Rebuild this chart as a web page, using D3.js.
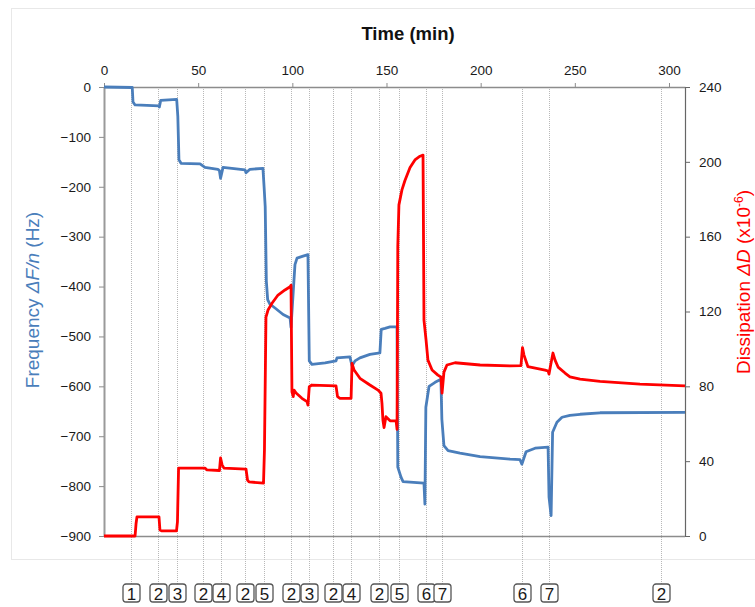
<!DOCTYPE html>
<html>
<head>
<meta charset="utf-8">
<script src="https://cdn.jsdelivr.net/npm/d3@7"></script>
<style>
  body { margin: 0; background: #fff; }
  text { font-family: "Liberation Sans", Arial, sans-serif; }
</style>
</head>
<body>
<div id="chartArea"></div>
<script>
// frequency trace (blue), time in min
var freqTime = [0, 15.0, 15.4, 16.5, 29.2, 29.4, 30.1, 38.6, 39.2, 39.8, 40.9, 51.0, 53.6, 60.5, 61.3, 61.9, 63.2,
  74.9, 75.4, 77.5, 84.4, 85.0, 85.6, 86.2, 86.9, 88.1, 90.8, 95.1, 98.8, 99.3, 100.5, 101.4, 102.5, 105.7,
  108.3, 109.0, 110.4, 117.4, 123.2, 123.7, 130.6, 131.7, 133.3, 135.9, 141.2, 146.5, 147.2, 149.2, 151.9,
  155.6, 156.0, 157.7, 158.8, 169.9, 170.4, 170.9, 172.6, 175.8, 178.9, 179.4, 180.5, 182.7, 189.0, 199.7,
  215.6, 220.9, 221.9, 224.1, 228.9, 235.8, 236.3, 237.4, 238.2, 240.5, 243.2, 247.4, 252.8, 263.4, 308.5];
var freqHz = [0, -1, -30, -36, -38, -40, -27, -25, -59, -146, -153, -154, -161, -165, -168, -183, -161,
  -166, -172, -165, -163, -200, -240, -389, -426, -435, -443, -456, -463, -482, -409, -356, -343, -339,
  -336, -549, -556, -553, -549, -543, -541, -559, -549, -543, -536, -533, -486, -484, -481,
  -481, -762, -782, -791, -794, -836, -642, -600, -592, -586, -666, -719, -729, -734, -741,
  -746, -747, -756, -731, -724, -722, -822, -859, -692, -672, -662, -658, -656, -653, -652];

// dissipation trace (red), x10^-6
var dissTime = [0, 16.5, 17.0, 17.5, 29.2, 29.7, 30.8, 38.5, 39.0, 39.6, 53.6, 54.7, 61.3, 61.9, 62.7, 63.7,
  75.4, 76.2, 77.0, 84.7, 85.2, 86.0, 87.1, 89.2, 92.4, 96.1, 98.8, 99.3, 99.8, 100.5, 100.9, 102.0, 105.1,
  107.8, 108.3, 109.0, 110.4, 123.2, 124.0, 125.3, 131.2, 131.7, 132.8, 135.9, 141.2, 145.5, 147.1, 147.6,
  148.1, 148.7, 149.7, 151.9, 155.1, 155.6, 156.0, 156.6, 158.2, 159.8, 162.5, 165.1, 167.8, 169.4, 169.9,
  171.0, 171.5, 172.0, 174.2, 177.3, 178.9, 179.5, 180.5, 182.1, 186.4, 199.7, 215.6, 221.4, 222.2, 223.0,
  225.1, 234.2, 235.8, 236.3, 237.1, 238.4, 239.5, 241.1, 244.8, 247.4, 252.8, 263.4, 284.6, 308.5];
var dissVal = [0, 0, 6.4, 10.2, 10.2, 3.2, 2.7, 2.7, 7.5, 36.3, 36.3, 35.3, 35, 41.7, 38, 36.3,
  35.8, 29.9, 28.9, 28.3, 46, 117, 120.8, 124.4, 128.8, 131.5, 133.2, 134, 77, 74.5, 78, 76.4, 73.6,
  71.8, 70, 79.8, 80.7, 80.2, 74.5, 73.6, 73.6, 92.3, 88.7, 84.3, 80.7, 78, 76.3, 70.9,
  62, 58, 63.8, 61.6, 61.5, 57, 154.6, 177, 185, 190, 197, 201, 203, 203.6, 115.4,
  104.8, 99.4, 94, 88.7, 86, 85, 76.4, 87.6, 91.4, 92.6, 91.4, 90.9, 91.1, 100.7, 96.7,
  90.5, 88.7, 88.2, 86.6, 91, 97.8, 94, 90.3, 87.1, 85.1, 83.9, 82.6, 81.2, 80.2];

// injection steps shown under the chart
var eventTime = [14.1, 28.8, 38.9, 52.4, 61.9, 74.7, 84.9, 99.5, 108.9, 121.8, 131.4, 146.2, 156.6, 171.0,
  179.4, 221.8, 236.2, 295.8];
var eventLabel = ["1", "2", "3", "2", "4", "2", "5", "2", "3", "2", "4", "2", "5", "6", "7", "6", "7", "2"];

var timeTicks = [0, 50, 100, 150, 200, 250, 300];
var freqTicks = [0, -100, -200, -300, -400, -500, -600, -700, -800, -900];
var dissTicks = [0, 40, 80, 120, 160, 200, 240];

function drawChart() {
  var width = 755, height = 607;
  var pLeft = 104, pRight = 685, pTop = 87, pBottom = 536;
  var blue = "#4a7ebb", red = "#ff0000";

  var svg = d3.select("#chartArea").append("svg")
      .attr("width", width)
      .attr("height", height);

  // chart area border
  svg.append("rect")
      .attr("x", 11.5)
      .attr("y", 8.5)
      .attr("width", 760)
      .attr("height", 551)
      .style("fill", "none")
      .style("stroke", "#e8e8e8");

  var x = d3.scaleLinear().domain([0, 308.5]).range([pLeft, pRight]);
  var yF = d3.scaleLinear().domain([-900, 0]).range([pBottom, pTop]);
  var yD = d3.scaleLinear().domain([0, 240]).range([pBottom, pTop]);

  // dotted event lines, running down to the boxes
  svg.selectAll("line.event")
      .data(eventTime)
      .enter().append("line")
      .attr("class", "event")
      .attr("x1", function(d) { return Math.round(x(d)) + 0.5; })
      .attr("x2", function(d) { return Math.round(x(d)) + 0.5; })
      .attr("y1", pTop + 2)
      .attr("y2", 584)
      .style("stroke", "#b8b8b8")
      .style("stroke-dasharray", "1,1");

  // axes
  var gTop = svg.append("g")
      .attr("transform", "translate(0," + pTop + ")")
      .call(d3.axisTop(x).tickValues(timeTicks).tickSize(4).tickSizeOuter(0).tickPadding(8));
  var gLeft = svg.append("g")
      .attr("transform", "translate(" + pLeft + ",0)")
      .call(d3.axisLeft(yF).tickValues(freqTicks).tickSize(5).tickSizeOuter(0).tickPadding(8));
  var gRight = svg.append("g")
      .attr("transform", "translate(" + pRight + ",0)")
      .call(d3.axisRight(yD).tickValues(dissTicks).tickSize(5).tickSizeOuter(0).tickPadding(9));
  svg.append("line")
      .attr("x1", pLeft)
      .attr("x2", pRight)
      .attr("y1", pBottom + 0.5)
      .attr("y2", pBottom + 0.5)
      .style("stroke", "#8c8c8c")
      .style("stroke-width", 1.5);

  [gTop, gLeft, gRight].forEach(function(g) {
    g.selectAll("text")
        .style("font-size", "13.5px")
        .style("font-family", "'Liberation Sans', Arial, sans-serif")
        .style("fill", "#1a1a1a");
    g.selectAll(".tick line").style("stroke", "#8c8c8c");
  });
  gTop.select(".domain").style("stroke", "#8c8c8c").style("stroke-width", 1.5);
  gLeft.select(".domain").style("stroke", "#9a9a9a").style("stroke-width", 2);
  gRight.select(".domain").style("stroke", "#666").style("stroke-width", 1.2);
  gRight.selectAll(".tick line").style("stroke", "#666");

  // traces
  var freqLine = d3.line()
      .x(function(d, i) { return x(freqTime[i]); })
      .y(function(d) { return yF(d); });
  var dissLine = d3.line()
      .x(function(d, i) { return x(dissTime[i]); })
      .y(function(d) { return yD(d); });

  svg.append("path")
      .attr("d", freqLine(freqHz))
      .style("fill", "none")
      .style("stroke", blue)
      .style("stroke-width", 2.8)
      .style("stroke-linejoin", "round");
  svg.append("path")
      .attr("d", dissLine(dissVal))
      .style("fill", "none")
      .style("stroke", red)
      .style("stroke-width", 2.8)
      .style("stroke-linejoin", "round");

  // titles
  svg.append("text")
      .attr("x", 408)
      .attr("y", 40)
      .attr("text-anchor", "middle")
      .style("font-size", "18.5px")
      .style("font-weight", "bold")
      .style("fill", "#111")
      .text("Time (min)");

  var yl = svg.append("text")
      .attr("transform", "translate(39,300) rotate(-90)")
      .attr("text-anchor", "middle")
      .style("font-size", "19px")
      .style("fill", blue);
  yl.append("tspan").text("Frequency ");
  yl.append("tspan").style("font-style", "italic").text("ΔF/n");
  yl.append("tspan").text(" (Hz)");

  var yr = svg.append("text")
      .attr("transform", "translate(750,282) rotate(-90)")
      .attr("text-anchor", "middle")
      .style("font-size", "19px")
      .style("fill", red);
  yr.append("tspan").text("Dissipation ");
  yr.append("tspan").style("font-style", "italic").text("ΔD");
  yr.append("tspan").text(" (x10");
  yr.append("tspan").attr("dy", -7).style("font-size", "12px").text("-6");
  yr.append("tspan").attr("dy", 7).text(")");

  // step boxes
  var box = svg.selectAll("g.step")
      .data(eventTime)
      .enter().append("g")
      .attr("class", "step")
      .attr("transform", function(d) { return "translate(" + (Math.round(x(d)) + 0.5) + ",584)"; });
  box.append("rect")
      .attr("x", -8.5)
      .attr("y", 0)
      .attr("width", 17)
      .attr("height", 18)
      .attr("rx", 3)
      .style("fill", "#fff")
      .style("stroke", "#555")
      .style("stroke-width", 1.3);
  box.append("text")
      .attr("x", 0)
      .attr("y", 15.5)
      .attr("text-anchor", "middle")
      .style("font-size", "17px")
      .style("fill", "#1a1a1a")
      .text(function(d, i) { return eventLabel[i]; });
}

drawChart();
</script>
</body>
</html>
